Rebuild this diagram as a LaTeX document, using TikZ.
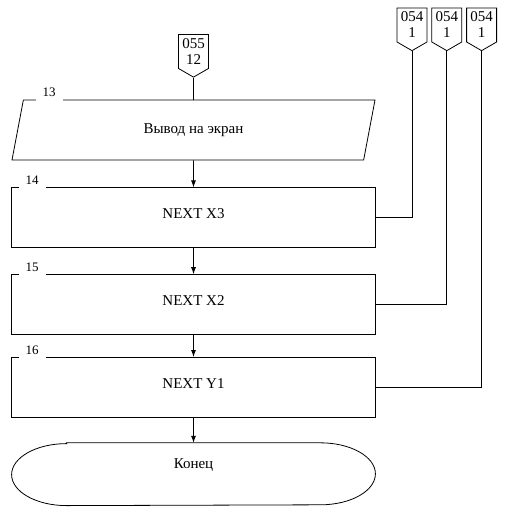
\documentclass[tikz,border=0pt]{standalone}
\usepackage{fontspec}
\setmainfont{Liberation Serif}
\usepackage{tikz}
\usetikzlibrary{shapes.geometric,shapes.symbols,arrows.meta,positioning}

\begin{document}
\begin{tikzpicture}[x=1pt, y=-1pt, node distance=26pt, >={Latex[length=7pt,width=5pt]}, line width=0.8pt,
    io/.style={trapezium, trapezium left angle=60, trapezium right angle=120, trapezium stretches body, draw, minimum width=363pt, minimum height=60pt, font=\fontsize{15}{17}\selectfont},
    block/.style={rectangle, draw, minimum width=364pt, minimum height=60pt, text depth=8pt, font=\fontsize{15}{17}\selectfont},
    terminal/.style={rectangle, minimum width=363pt, minimum height=62pt, text depth=22pt, font=\fontsize{15}{17}\selectfont},
    offpage/.style={signal, signal to=south, signal from=nowhere, signal pointer angle=120, draw, align=center, inner xsep=1pt, inner ysep=4pt, minimum width=30pt, font=\fontsize{15}{16}\selectfont},
    numlabel/.style={anchor=base, fill=white, inner xsep=7pt, inner ysep=4pt, font=\fontsize{13}{15}\selectfont}]
    \useasboundingbox (0,0) rectangle (504,517);

    \node [io] (out) at (193.5,130) {Вывод на экран};
    \node [block, below=27pt of out] (next3) {NEXT X3};
    \node [block, below=26pt of next3] (next2) {NEXT X2};
    \node [block, below=22pt of next2] (next1) {NEXT Y1};
    \node [terminal, below=25pt of next1] (stop) {Конец};
    \draw ([xshift=55pt]stop.north west) -- ([xshift=-55pt]stop.north east)
        arc [start angle=90, end angle=-90, x radius=55pt, y radius=31pt]
        -- ([xshift=55pt]stop.south west)
        arc [start angle=270, end angle=90, x radius=55pt, y radius=31pt] -- cycle;

    % block numbers on the top edges
    \node [numlabel] (n13) at ([xshift=26pt, yshift=3pt]out.top left corner) {13};
    \node [numlabel] (n14) at ([xshift=21pt, yshift=3pt]next3.north west) {14};
    \node [numlabel] (n15) at ([xshift=21pt, yshift=3pt]next2.north west) {15};
    \node [numlabel] (n16) at ([xshift=21pt, yshift=3pt]next1.north west) {16};

    % off-page connectors
    \node [offpage, above=22pt of out] (c055) {055\\12};
    \node [offpage] (c1) at (412,25) {054\\1};
    \node [offpage, right=4pt of c1] (c2) {054\\1};
    \node [offpage, right=4pt of c2] (c3) {054\\1};

    \draw (c055.south) -- (out.north);
    \draw [->] (out) -- (next3);
    \draw [->] (next3) -- (next2);
    \draw [->] (next2) -- (next1);
    \draw [->] (next1) -- (stop);
    \draw (c1.south) |- (next3.east);
    \draw (c2.south) |- (next2.east);
    \draw (c3.south) |- (next1.east);
\end{tikzpicture}
\end{document}
